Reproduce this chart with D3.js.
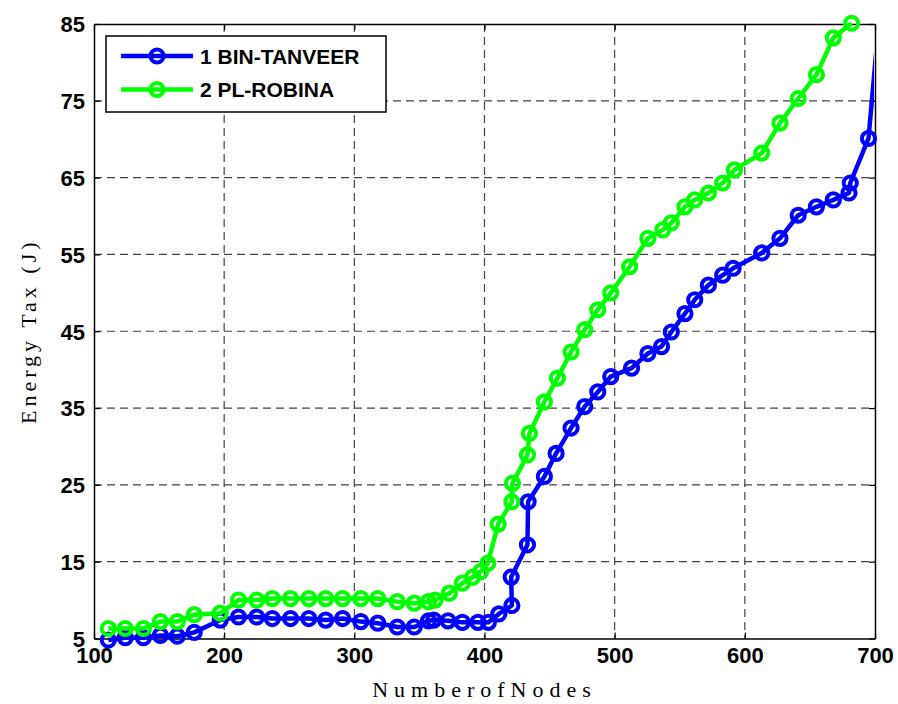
<!DOCTYPE html>
<html>
<head>
<meta charset="utf-8">
<script src="https://cdn.jsdelivr.net/npm/d3@7/dist/d3.min.js"></script>
<style>
  body { margin: 0; background: #fff; }
  svg { display: block; }
</style>
</head>
<body>
<div id="chart"></div>
<script>
// values
var xTicks = [100, 200, 300, 400, 500, 600, 700];
var yTicks = [5, 15, 25, 35, 45, 55, 65, 75, 85];

var blueName = "1 BIN-TANVEER";
var blueX = [111, 124, 138, 151, 164, 177, 197, 211, 225, 237, 251, 265, 278, 291, 305, 318, 333, 346,
  357, 361, 372, 383, 395, 403, 411, 421, 420.5, 433, 433.5, 446, 455, 466.5, 477, 487, 497, 513, 525.5,
  536, 543.5, 554, 561.5, 572, 583, 591, 613, 627, 641, 655, 668, 680, 681, 695, 706];
var blueY = [4.8, 5.1, 5.1, 5.4, 5.3, 5.8, 7.4, 7.8, 7.8, 7.6, 7.6, 7.6, 7.4, 7.6, 7.2, 7.0, 6.5, 6.5,
  7.3, 7.4, 7.3, 7.1, 7.1, 7.1, 8.2, 9.3, 13.0, 17.2, 22.8, 26.1, 29.1, 32.4, 35.2, 37.1, 39.1, 40.2, 42.1,
  43.0, 44.9, 47.3, 49.1, 51.0, 52.3, 53.2, 55.2, 57.1, 60.1, 61.2, 62.1, 63.0, 64.3, 70.1, 91];

var greenName = "2 PL-ROBINA";
var greenX = [111, 124, 138, 151, 164, 177, 197, 211, 225, 237, 251, 265, 278, 291, 305, 318, 333, 346,
  357, 362, 373, 383, 391, 397, 402.5, 410.5, 421, 421.5, 433, 434.5, 446, 456, 466.5, 477, 487, 497,
  511.5, 525.5, 537, 543.5, 554, 561.5, 572, 583, 592, 613, 627, 641, 655, 668, 682];
var greenY = [6.3, 6.3, 6.3, 7.2, 7.2, 8.1, 8.3, 10.0, 10.0, 10.2, 10.2, 10.2, 10.2, 10.2, 10.2, 10.2, 9.8, 9.6,
  9.8, 10.0, 10.9, 12.2, 13.0, 13.7, 14.8, 19.9, 22.8, 25.2, 28.9, 31.7, 35.8, 38.9, 42.3, 45.2, 47.8, 50.0,
  53.4, 57.1, 58.2, 59.1, 61.2, 62.1, 63.0, 64.3, 66.0, 68.2, 72.1, 75.3, 78.4, 83.2, 85.1];

var W = 898, H = 704;
var pLeft = 94, pRight = 875, pTop = 24, pBottom = 638.5;

var svg = d3.select("#chart").append("svg")
  .attr("width", W)
  .attr("height", H);

var x = d3.scaleLinear().domain([100, 700]).range([pLeft, pRight]);
var y = d3.scaleLinear().domain([5, 85]).range([pBottom, pTop]);

// dashed grid
svg.append("g").selectAll("line")
  .data(xTicks.slice(1, -1))
  .enter().append("line")
  .attr("x1", function(d) { return x(d); })
  .attr("x2", function(d) { return x(d); })
  .attr("y1", pTop).attr("y2", pBottom)
  .attr("stroke", "#444").attr("stroke-width", 1.2)
  .attr("stroke-dasharray", "8,5");

svg.append("g").selectAll("line")
  .data(yTicks.slice(1, -1))
  .enter().append("line")
  .attr("y1", function(d) { return y(d); })
  .attr("y2", function(d) { return y(d); })
  .attr("x1", pLeft).attr("x2", pRight)
  .attr("stroke", "#444").attr("stroke-width", 1.2)
  .attr("stroke-dasharray", "8,5");

// axes, ticks inside like matlab
var tickFont = "'Liberation Sans', Arial, sans-serif";

var xAxis = svg.append("g")
  .attr("transform", "translate(0," + pBottom + ")")
  .call(d3.axisBottom(x).tickValues(xTicks).tickSizeInner(-6).tickSizeOuter(0).tickPadding(13));
var xTop = svg.append("g")
  .attr("transform", "translate(0," + pTop + ")")
  .call(d3.axisTop(x).tickValues(xTicks).tickSizeInner(-6).tickSizeOuter(0).tickFormat(""));
var yAxis = svg.append("g")
  .attr("transform", "translate(" + pLeft + ",0)")
  .call(d3.axisLeft(y).tickValues(yTicks).tickSizeInner(-6).tickSizeOuter(0).tickPadding(9));
var yRight = svg.append("g")
  .attr("transform", "translate(" + pRight + ",0)")
  .call(d3.axisRight(y).tickValues(yTicks).tickSizeInner(-6).tickSizeOuter(0).tickFormat(""));

[xAxis, xTop, yAxis, yRight].forEach(function(a) {
  a.select(".domain").attr("stroke", "#000").attr("stroke-width", 1.5);
  a.selectAll(".tick line").attr("stroke", "#000").attr("stroke-width", 1.2);
  a.selectAll("text")
    .attr("font-family", tickFont)
    .attr("font-weight", "bold")
    .attr("font-size", 22)
    .attr("fill", "#000");
});
xAxis.selectAll("text").attr("dy", "0.5em");
yAxis.selectAll("text").attr("dy", "0.36em");

// clip for the lines
svg.append("clipPath").attr("id", "plotclip")
  .append("rect")
  .attr("x", pLeft).attr("y", pTop - 10)
  .attr("width", pRight - pLeft - 1).attr("height", pBottom - pTop + 20);

var series = [
  {name: blueName, xs: blueX, ys: blueY, color: "#0000ff"},
  {name: greenName, xs: greenX, ys: greenY, color: "#00ff00"}
];

var line = d3.line()
  .x(function(d) { return x(d[0]); })
  .y(function(d) { return y(d[1]); });

series.forEach(function(s) {
  var pts = s.xs.map(function(v, i) { return [v, s.ys[i]]; });
  var g = svg.append("g");
  g.append("path")
    .attr("d", line(pts))
    .attr("clip-path", "url(#plotclip)")
    .attr("fill", "none")
    .attr("stroke", s.color)
    .attr("stroke-width", 4.5)
    .attr("stroke-linejoin", "round");
  g.selectAll("circle")
    .data(pts.filter(function(d) { return d[0] <= 700; }))
    .enter().append("circle")
    .attr("cx", function(d) { return x(d[0]); })
    .attr("cy", function(d) { return y(d[1]); })
    .attr("r", 6.6)
    .attr("fill", "none")
    .attr("stroke", s.color)
    .attr("stroke-width", 4);
});

// legend
var leg = svg.append("g");
leg.append("rect")
  .attr("x", 106).attr("y", 36)
  .attr("width", 280).attr("height", 76)
  .attr("fill", "#fff").attr("stroke", "#000").attr("stroke-width", 1.5);

series.forEach(function(s, i) {
  var ly = 56 + i * 33.5;
  leg.append("line")
    .attr("x1", 121).attr("x2", 193)
    .attr("y1", ly).attr("y2", ly)
    .attr("stroke", s.color).attr("stroke-width", 4.5);
  leg.append("circle")
    .attr("cx", 157).attr("cy", ly).attr("r", 6.6)
    .attr("fill", "none").attr("stroke", s.color).attr("stroke-width", 4);
  leg.append("text")
    .attr("x", 200).attr("y", ly)
    .attr("dy", "0.36em")
    .attr("font-family", tickFont)
    .attr("font-weight", "bold")
    .attr("font-size", 21)
    .text(s.name);
});

// axis titles
var titleFont = "'Liberation Serif', 'Times New Roman', serif";
svg.append("text")
  .attr("x", (pLeft + pRight) / 2).attr("y", 697)
  .attr("text-anchor", "middle")
  .attr("font-family", titleFont)
  .attr("font-size", 22)
  .attr("letter-spacing", 6)
  .text("NumberofNodes");

svg.append("text")
  .attr("transform", "translate(36," + (pTop + pBottom) / 2 + ") rotate(-90)")
  .attr("text-anchor", "middle")
  .attr("font-family", titleFont)
  .attr("font-size", 22)
  .attr("letter-spacing", 4)
  .text("Energy Tax (J)");
</script>
</body>
</html>
